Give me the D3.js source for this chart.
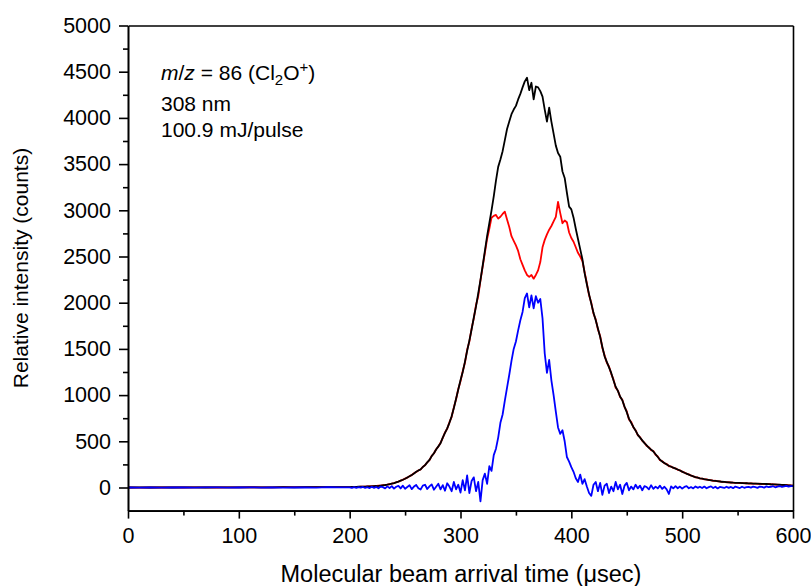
<!DOCTYPE html>
<html>
<head>
<meta charset="utf-8">
<script src="https://cdn.jsdelivr.net/npm/d3@7"></script>
<style>
body { margin: 0; background: #fff; }
svg { font-family: "Liberation Sans", Arial, sans-serif; }
</style>
</head>
<body>
<svg id="svg1" width="811" height="586"></svg>
<script>
// sample times: coarse before 200 usec, 2 usec channels after
var earlyTimes = [0, 10, 20, 30, 40, 50, 60, 70, 80, 90, 100, 110, 120, 130, 140, 150, 160, 170, 180, 190];
var scanTimes = d3.range(200, 601, 2);
var times = earlyTimes.concat(scanTimes);

// total signal (black)
var totalCounts = [
  0, 1, 0, 1, 0, 1, 1, 0, 1, 1, 2, 1, 2, 2, 3, 2, 3, 4, 4, 5,
  5, 6, 5, 7, 8, 8, 9, 10, 11, 12,
  13, 15, 16, 18, 21, 24, 27, 31, 36, 42,
  48, 56, 64, 74, 84, 95, 108, 121, 135, 152,
  170, 184, 196, 222, 242, 272, 298, 340, 370, 412,
  445, 480, 540, 592, 640, 700, 770, 860, 960, 1060,
  1160, 1250, 1360, 1480, 1590, 1710, 1840, 1960, 2100, 2245,
  2400, 2560, 2720, 2860, 3000, 3150, 3320, 3470, 3550, 3640,
  3760, 3880, 3960, 4040, 4090, 4130, 4200, 4260, 4330, 4395,
  4435, 4300, 4380, 4200, 4340, 4330, 4290, 4230, 4090, 3960,
  4110, 3960, 3830, 3700, 3620, 3580, 3420, 3350, 3190, 3040,
  3010, 2920, 2800, 2690, 2580, 2470, 2320, 2200, 2090, 1990,
  1890, 1810, 1720, 1630, 1520, 1420, 1360, 1300, 1240, 1160,
  1090, 1045, 985, 945, 875, 815, 745, 700, 655, 615,
  570, 540, 510, 480, 455, 430, 410, 390, 360, 330,
  300, 280, 265, 250, 235, 225, 215, 205, 195, 184,
  172, 160, 150, 140, 130, 120, 112, 106, 100, 95,
  90, 86, 82, 78, 74, 71, 68, 65, 62, 60,
  58, 56, 54, 52, 51, 50, 49, 48, 47, 46,
  45, 44, 43, 42, 41, 40, 40, 39, 38, 37,
  35, 34, 33, 31, 30, 28, 27, 26, 24, 22,
  21
];

// red trace
var redCounts = [
  0, -1, 1, 0, 1, 0, 2, 1, 0, 2, 1, 3, 2, 2, 3, 3, 4, 3, 5, 4,
  4, 6, 6, 7, 7, 9, 9, 10, 12, 12,
  14, 14, 17, 19, 20, 25, 26, 32, 35, 43,
  47, 57, 63, 75, 83, 97, 106, 123, 134, 154,
  168, 185, 195, 223, 241, 273, 297, 342, 368, 414,
  442, 484, 536, 596, 636, 705, 765, 866, 955, 1066,
  1150, 1258, 1350, 1490, 1580, 1720, 1830, 1975, 2070, 2240,
  2390, 2540, 2690, 2800, 2920, 2940, 2950, 2910, 2930, 2960,
  2985, 2900, 2820, 2720, 2670, 2620, 2560, 2470, 2410, 2350,
  2300, 2280, 2300, 2260, 2300, 2350, 2440, 2600, 2680, 2740,
  2790, 2830, 2880, 2930, 3090, 2970, 2860, 2890, 2870, 2760,
  2700, 2660, 2600, 2540, 2500, 2450, 2330, 2210, 2080, 2000,
  1880, 1820, 1710, 1640, 1510, 1430, 1350, 1310, 1230, 1170,
  1080, 1050, 980, 950, 870, 825, 735, 710, 650, 620,
  565, 545, 505, 485, 450, 435, 405, 395, 355, 335,
  295, 285, 260, 255, 230, 228, 212, 208, 192, 186,
  170, 163, 148, 142, 128, 122, 110, 108, 98, 97,
  88, 87, 80, 79, 72, 73, 66, 66, 60, 61,
  56, 57, 52, 53, 49, 51, 47, 49, 45, 47,
  43, 45, 41, 43, 39, 41, 38, 40, 36, 38,
  33, 35, 31, 32, 28, 29, 25, 27, 22, 23,
  19
];

// blue trace
var blueCounts = [
  0, -2, 1, -1, 2, 0, -2, 1, 2, -1, 0, 2, -1, 1, -2, 2, 0, -1, 3, 1,
  2, -4, 5, -3, 4, -2, 6, -5, 3, -6,
  8, -4, 6, -8, 10, 4, -10, 12, -6, 15,
  -12, 8, 18, -10, 20, -14, 6, 24, -18, 10,
  28, -8, -22, 20, 30, -16, 12, 34, -24, 8,
  40, -20, 26, -35, 46, 10, -40, 60, -20, 30,
  -55, 80, -30, 130, -60, 70, 110, -40, 60, -150,
  80, 150, 40, 230, 180, 350, 420, 540, 700, 790,
  940, 1080, 1220, 1370, 1500, 1580, 1700, 1810, 1900, 2050,
  2100, 1950, 2080, 1940, 2070, 2000, 2040, 1830, 1450, 1240,
  1380, 1160, 1000, 820, 650, 580, 620, 500, 330, 280,
  220, 170, 100, 60, 140, 40, 90, 10, -60, -90,
  30, 60, -40, 50, -80, 20, 40, -60, 10, -40,
  60, -20, 30, -70, 20, 50, -30, 10, -20, 30,
  -10, 20, -30, 15, 5, -20, 25, -15, 10, -10,
  20, -15, 8, -20, -70, 12, -10, 15, -8, 10,
  -12, 6, 14, -8, 5, -10, 12, -4, 8, -6,
  10, -8, 4, 12, -6, 8, -10, 6, 2, -5,
  9, -4, 6, -7, 10, 2, -6, 8, -3, 5,
  7, -2, 9, 3, -4, 10, 6, -1, 12, 4,
  8, 14, 2, 10, 16, 6, 12, 18, 9, 15,
  14
];

var xTicks = [0, 100, 200, 300, 400, 500, 600];
var xMinorTicks = [50, 150, 250, 350, 450, 550];
var yTicks = [0, 500, 1000, 1500, 2000, 2500, 3000, 3500, 4000, 4500, 5000];
var yMinorTicks = [250, 750, 1250, 1750, 2250, 2750, 3250, 3750, 4250, 4750];

var svg = d3.select('#svg1');

var x = d3.scaleLinear().domain([0, 600]).range([128, 793]);
var y = d3.scaleLinear().domain([-250, 5000]).range([510.6, 25.5]);

function series(vals) {
    return times.map(function(t, i) { return [t, vals[i]]; });
}

var line = d3.line()
    .x(function(d) { return x(d[0]); })
    .y(function(d) { return y(d[1]); });

var traces = [
    {vals: redCounts, color: '#ff0000'},
    {vals: totalCounts, color: '#000000'},
    {vals: blueCounts, color: '#0000ff'}
];

svg.selectAll('path.trace')
    .data(traces)
    .enter()
    .append('path')
    .attr('class', 'trace')
    .attr('d', function(d) { return line(series(d.vals)); })
    .attr('fill', 'none')
    .attr('stroke', function(d) { return d.color; })
    .attr('stroke-width', 1.8)
    .attr('stroke-linejoin', 'round');

// axes
svg.append('g')
    .attr('transform', 'translate(0,' + y(-250) + ')')
    .call(d3.axisBottom(x).tickValues(xTicks).tickSize(8).tickSizeOuter(0).tickPadding(9).tickFormat(d3.format('d')));
svg.append('g')
    .attr('transform', 'translate(0,' + y(-250) + ')')
    .call(d3.axisBottom(x).tickValues(xMinorTicks).tickSize(5).tickSizeOuter(0).tickFormat(''));

svg.append('g')
    .attr('transform', 'translate(' + x(0) + ',0)')
    .call(d3.axisLeft(y).tickValues(yTicks).tickSize(9).tickSizeOuter(0).tickPadding(8).tickFormat(d3.format('d')));
svg.append('g')
    .attr('transform', 'translate(' + x(0) + ',0)')
    .call(d3.axisLeft(y).tickValues(yMinorTicks).tickSize(5).tickSizeOuter(0).tickFormat(''));

// top and right frame
svg.append('g')
    .attr('transform', 'translate(0,' + y(5000) + ')')
    .call(d3.axisTop(x).tickValues([]).tickSizeOuter(0));
svg.append('g')
    .attr('transform', 'translate(' + x(600) + ',0)')
    .call(d3.axisRight(y).tickValues([]).tickSizeOuter(0));

svg.selectAll('.domain, .tick line')
    .attr('stroke', '#000')
    .attr('stroke-width', 1.6);
svg.selectAll('.tick text')
    .attr('font-size', 21.5)
    .attr('font-family', '"Liberation Sans", Arial, sans-serif')
    .attr('fill', '#000');

// axis titles
svg.append('text')
    .attr('x', 461)
    .attr('y', 582)
    .attr('text-anchor', 'middle')
    .attr('font-size', 23.5)
    .text('Molecular beam arrival time (\u03bcsec)');

svg.append('text')
    .attr('transform', 'translate(28,' + ((y(-250) + y(5000)) / 2) + ') rotate(-90)')
    .attr('text-anchor', 'middle')
    .attr('font-size', 21)
    .text('Relative intensity (counts)');

// annotation
var note = svg.append('text')
    .attr('x', 161)
    .attr('y', 80)
    .attr('font-size', 21);
note.append('tspan').attr('font-style', 'italic').text('m');
note.append('tspan').text('/');
note.append('tspan').attr('font-style', 'italic').text('z');
note.append('tspan').text(' = 86 (Cl');
note.append('tspan').attr('font-size', 15).attr('dy', 5).text('2');
note.append('tspan').attr('dy', -5).text('O');
note.append('tspan').attr('font-size', 15).attr('dy', -8).text('+');
note.append('tspan').attr('dy', 8).text(')');

svg.append('text')
    .attr('x', 161)
    .attr('y', 111)
    .attr('font-size', 21)
    .text('308 nm');

svg.append('text')
    .attr('x', 161)
    .attr('y', 137)
    .attr('font-size', 21)
    .text('100.9 mJ/pulse');
</script>
</body>
</html>
